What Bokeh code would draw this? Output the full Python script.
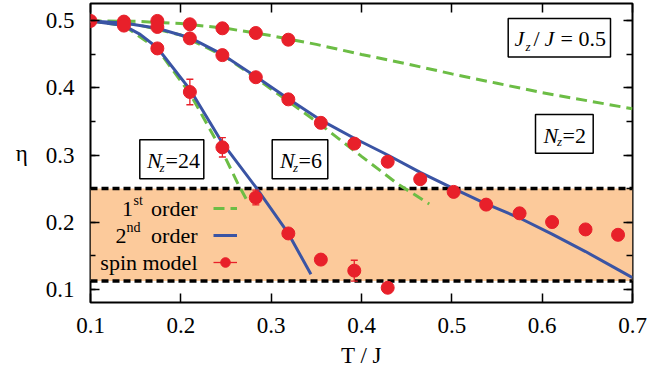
from bokeh.plotting import figure
from bokeh.models import (ColumnDataSource, BoxAnnotation, Span, Label, LinearAxis,
                          FixedTicker, Legend, LegendItem)
from bokeh.embed import file_html
from bokeh.resources import INLINE

FONT = "'Liberation Serif', 'Times New Roman', serif"
RED = "#e8202a"
BLUE = "#3a54a4"
GREEN = "#6cbd45"
BAND = "#fcca9b"

# ---------------- data ----------------
x_ticks = [0.1, 0.2, 0.3, 0.4, 0.5, 0.6, 0.7]
y_ticks = [0.1, 0.2, 0.3, 0.4, 0.5]
y_minor = [0.1, 0.15, 0.2, 0.25, 0.3, 0.35, 0.4, 0.45, 0.5]

# first order (green dashed)
g2_T = [0.1, 0.15, 0.2, 0.25, 0.3, 0.35, 0.4, 0.45, 0.5, 0.55, 0.6, 0.65, 0.7]
g2_eta = [0.5, 0.4995, 0.496, 0.489, 0.478, 0.465, 0.45, 0.436, 0.421, 0.407, 0.393, 0.381, 0.369]
g6_T = [0.1, 0.15, 0.2, 0.25, 0.283, 0.319, 0.355, 0.4, 0.44, 0.475]
g6_eta = [0.5, 0.495, 0.479, 0.446, 0.415, 0.38, 0.345, 0.298, 0.257, 0.227]
g24_T = [0.1, 0.137, 0.174, 0.21, 0.246, 0.264, 0.275]
g24_eta = [0.5, 0.493, 0.458, 0.392, 0.305, 0.255, 0.228]

# second order (blue solid)
b6_T = [0.1, 0.137, 0.174, 0.21, 0.246, 0.283, 0.319, 0.355, 0.392, 0.429, 0.465,
        0.502, 0.538, 0.575, 0.611, 0.648, 0.684, 0.7]
b6_eta = [0.5, 0.497, 0.489, 0.475, 0.45, 0.417, 0.384, 0.352, 0.325, 0.3, 0.274,
          0.25, 0.227, 0.206, 0.182, 0.156, 0.129, 0.117]
b24_T = [0.1, 0.137, 0.155, 0.174, 0.21, 0.246, 0.283, 0.319, 0.344]
b24_eta = [0.5, 0.493, 0.48, 0.46, 0.398, 0.318, 0.252, 0.183, 0.122]

# spin model points
s2_T = [0.1, 0.137, 0.174, 0.21, 0.246, 0.283, 0.319]
s2_eta = [0.5, 0.499, 0.5, 0.495, 0.489, 0.482, 0.472]
s2_err = [0, 0, 0, 0, 0, 0, 0]
s6_T = [0.137, 0.174, 0.21, 0.246, 0.283, 0.319, 0.355, 0.392, 0.429, 0.465,
        0.502, 0.538, 0.575, 0.611, 0.648, 0.684]
s6_eta = [0.493, 0.491, 0.474, 0.449, 0.416, 0.383, 0.348, 0.317, 0.29, 0.264,
          0.245, 0.226, 0.213, 0.2, 0.189, 0.181]
s6_err = [0] * 16
s24_T = [0.174, 0.21, 0.246, 0.283, 0.319, 0.355, 0.392, 0.429]
s24_eta = [0.459, 0.394, 0.3115, 0.2365, 0.183, 0.144, 0.1275, 0.102]
s24_err = [0, 0.019, 0.0145, 0.011, 0, 0, 0.0155, 0]

band_low = 0.112
band_high = 0.25

X_MIN, X_MAX = 0.1, 0.7
Y_MIN, Y_MAX = 0.08, 0.526

# helpers to place annotations (reference pixel layout -> data units)
def tx(px):
    return X_MIN + (px - 90.0) * (X_MAX - X_MIN) / 542.0

def ty(py):
    return Y_MAX - (py - 3.3) * (Y_MAX - Y_MIN) / 298.4

BASELINE_FIX = 7

# ---------------- figure ----------------
p = figure(width=672, height=374, x_range=(X_MIN, X_MAX), y_range=(Y_MIN, Y_MAX),
           output_backend="svg", toolbar_location=None,
           min_border_left=90, min_border_right=40, min_border_top=3, min_border_bottom=72)
p.xgrid.visible = False
p.ygrid.visible = False
p.outline_line_color = "black"
p.outline_line_width = 2
p.background_fill_color = "white"

# band
p.add_layout(BoxAnnotation(bottom=band_low, top=band_high, fill_color=BAND, fill_alpha=1.0,
                           line_color=None, level="underlay"))
for loc in (band_low, band_high):
    p.add_layout(Span(location=loc, dimension="width", line_color="black", line_width=3.5,
                      line_dash="7 4", level="underlay"))

# curves
r_g2 = p.line(g2_T, g2_eta, line_color=GREEN, line_width=3, line_dash="11 6")
p.line(g6_T, g6_eta, line_color=GREEN, line_width=3, line_dash="11 6")
p.line(g24_T, g24_eta, line_color=GREEN, line_width=3, line_dash="11 6")
r_b6 = p.line(b6_T, b6_eta, line_color=BLUE, line_width=3)
p.line(b24_T, b24_eta, line_color=BLUE, line_width=3)

# spin model points with error bars
T_all = s2_T + s6_T + s24_T
eta_all = s2_eta + s6_eta + s24_eta
err_all = s2_err + s6_err + s24_err
src = ColumnDataSource(dict(
    T=T_all, eta=eta_all,
    lo=[e - d for e, d in zip(eta_all, err_all)],
    hi=[e + d for e, d in zip(eta_all, err_all)],
))
r_err = p.segment(x0="T", y0="lo", x1="T", y1="hi", source=src, line_color=RED, line_width=1.3)
p.scatter(x="T", y="lo", source=src, marker="dash", size=7, line_color=RED, line_width=1.3)
p.scatter(x="T", y="hi", source=src, marker="dash", size=7, line_color=RED, line_width=1.3)
r_pts = p.scatter(x="T", y="eta", source=src, size=13, fill_color=RED, line_color=RED)

# axes
for ax in (p.xaxis[0], p.yaxis[0]):
    ax.axis_line_color = None
    ax.major_tick_in = 9
    ax.major_tick_out = 0
    ax.minor_tick_in = 5
    ax.minor_tick_out = 0
    ax.major_tick_line_width = 1.5
    ax.minor_tick_line_width = 1.5
    ax.major_label_text_font = FONT
    ax.major_label_text_font_size = "23px"
    ax.major_label_text_color = "black"
    ax.axis_label_text_font = FONT
    ax.axis_label_text_font_size = "23px"
    ax.axis_label_text_font_style = "normal"
    ax.axis_label_text_color = "black"

p.xaxis[0].ticker = FixedTicker(ticks=x_ticks)
p.xaxis[0].minor_tick_line_color = None
p.xaxis[0].major_label_standoff = 15
p.xaxis[0].axis_label = "T / J"
p.xaxis[0].axis_label_standoff = 7

p.yaxis[0].ticker = FixedTicker(ticks=y_ticks, minor_ticks=y_minor)
p.yaxis[0].major_label_standoff = 16
p.yaxis[0].axis_label = "η"
p.yaxis[0].axis_label_orientation = "horizontal"
p.yaxis[0].axis_label_standoff = 15

top = LinearAxis(ticker=FixedTicker(ticks=x_ticks), major_label_text_font_size="1px",
                 major_label_text_color=None,
                 major_label_standoff=0, axis_line_color=None, major_tick_in=9, major_tick_out=0,
                 major_tick_line_width=1.5, minor_tick_line_color=None)
p.add_layout(top, "above")
right = LinearAxis(ticker=FixedTicker(ticks=y_ticks, minor_ticks=y_minor),
                   major_label_text_font_size="1px", major_label_text_color=None,
                   major_label_standoff=0,
                   axis_line_color=None, major_tick_in=9, major_tick_out=0, minor_tick_in=6,
                   minor_tick_out=0, major_tick_line_width=1.5, minor_tick_line_width=1.5)
p.add_layout(right, "right")

# legend (samples only; texts added as labels)
legend = Legend(items=[LegendItem(label=" ", renderers=[r_g2]),
                       LegendItem(label=" ", renderers=[r_b6]),
                       LegendItem(label=" ", renderers=[r_err, r_pts])],
                location=(123, 27), glyph_width=24, glyph_height=26, label_width=0,
                label_height=26, label_standoff=0, label_text_font_size="1px",
                label_text_color=None,
                spacing=1, padding=0, margin=0, border_line_color=None,
                background_fill_alpha=0)
p.add_layout(legend)

def lab(x, y, text, size="22px", style="normal", align="left"):
    p.add_layout(Label(x=tx(x), y=ty(y - BASELINE_FIX), text=text, text_font=FONT,
                       text_font_size=size, text_font_style=style, text_align=align,
                       text_baseline="alphabetic", text_color="black"))

# legend texts
lab(132.5, 215, "1", align="right")
lab(133, 207, "st", size="14px")
lab(197, 215, "order", align="right")
lab(126, 242, "2", align="right")
lab(126, 234, "nd", size="14px")
lab(197, 242, "order", align="right")
lab(197, 269, "spin model", align="right")

# boxed annotations
def box(x0, x1, y0, y1):
    p.add_layout(BoxAnnotation(left=tx(x0), right=tx(x1), top=ty(y0), bottom=ty(y1),
                               fill_color="white", fill_alpha=1.0, line_color="black",
                               line_alpha=1.0, line_width=1.5))

box(507.7, 610, 18.3, 56.7)
lab(514, 45, "J", style="italic")
lab(525, 53, "z", size="13px", style="italic")
lab(533, 45, "/")
lab(544, 45, "J", style="italic")
lab(560, 45, "= 0.5")

box(535, 592.7, 114, 152.7)
lab(543, 141.7, "N", style="italic")
lab(556.5, 148, "z", size="13px", style="italic")
lab(562, 141.7, "=2")

box(139.3, 203.3, 139.3, 178.3)
lab(146.5, 166.7, "N", style="italic")
lab(159, 174, "z", size="13px", style="italic")
lab(165, 166.7, "=24")

box(271.7, 327.3, 139.3, 178.3)
lab(279.5, 166.7, "N", style="italic")
lab(292.5, 174, "z", size="13px", style="italic")
lab(298, 166.7, "=6")

open("out.html", "w").write(file_html(p, INLINE))
